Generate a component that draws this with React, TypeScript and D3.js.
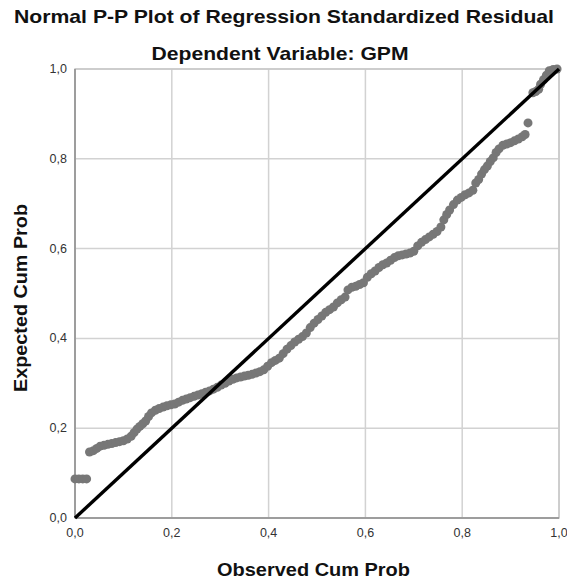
import * as d3 from "d3";

const observed = [
  0.0, 0.008, 0.016, 0.024, 0.03, 0.038, 0.045, 0.052, 0.06, 0.068, 0.076, 0.084, 0.092, 0.1, 0.108, 0.116,
  0.122, 0.128, 0.134, 0.14, 0.146, 0.152, 0.158, 0.166, 0.174, 0.182, 0.19, 0.198, 0.206, 0.214, 0.222,
  0.23, 0.238, 0.246, 0.254, 0.262, 0.27, 0.278, 0.286, 0.294, 0.302, 0.31, 0.318, 0.326, 0.334, 0.342,
  0.35, 0.358, 0.366, 0.374, 0.382, 0.39, 0.398, 0.406, 0.414, 0.422, 0.43, 0.438, 0.446, 0.454, 0.462,
  0.47, 0.478, 0.486, 0.494, 0.502, 0.51, 0.518, 0.526, 0.534, 0.542, 0.55, 0.558, 0.564, 0.572, 0.58,
  0.588, 0.596, 0.604, 0.612, 0.62, 0.628, 0.636, 0.644, 0.652, 0.66, 0.668, 0.676, 0.684, 0.692, 0.7,
  0.708, 0.716, 0.724, 0.732, 0.74, 0.748, 0.756, 0.762, 0.768, 0.774, 0.782, 0.79, 0.798, 0.806, 0.814,
  0.822, 0.828, 0.834, 0.84, 0.846, 0.852, 0.858, 0.864, 0.87, 0.876, 0.884, 0.892, 0.9, 0.908, 0.916,
  0.924, 0.93, 0.936, 0.946, 0.952, 0.958, 0.962, 0.968, 0.974, 0.98, 0.988, 0.996,
];

const expected = [
  0.087, 0.087, 0.087, 0.087, 0.147, 0.15, 0.155, 0.16, 0.162, 0.164, 0.166, 0.168, 0.17, 0.172, 0.176, 0.182,
  0.19, 0.198, 0.204, 0.21, 0.216, 0.226, 0.234, 0.24, 0.244, 0.247, 0.25, 0.252, 0.254, 0.258, 0.262,
  0.265, 0.268, 0.271, 0.274, 0.277, 0.28, 0.283, 0.287, 0.291, 0.296, 0.3, 0.305, 0.309, 0.312, 0.314,
  0.316, 0.318, 0.32, 0.323, 0.326, 0.33, 0.338, 0.346, 0.351, 0.356, 0.366, 0.376, 0.384, 0.392, 0.398,
  0.404, 0.412, 0.424, 0.434, 0.442, 0.45, 0.458, 0.464, 0.47, 0.479, 0.486, 0.492, 0.508, 0.514, 0.516,
  0.52, 0.524, 0.536, 0.544, 0.55, 0.558, 0.564, 0.568, 0.574, 0.58, 0.584, 0.586, 0.588, 0.59, 0.594,
  0.606, 0.614, 0.62, 0.626, 0.632, 0.638, 0.648, 0.664, 0.676, 0.686, 0.698, 0.708, 0.714, 0.72, 0.724,
  0.73, 0.746, 0.754, 0.766, 0.776, 0.784, 0.794, 0.802, 0.814, 0.822, 0.83, 0.833, 0.836, 0.84, 0.844,
  0.849, 0.854, 0.88, 0.947, 0.95, 0.955, 0.966, 0.976, 0.986, 0.996, 0.999, 1.0,
];

const ticks = [0, 0.2, 0.4, 0.6, 0.8, 1.0];

const W = 567;
const H = 581;
const margin = { top: 69, right: 8, bottom: 63, left: 75 };
const innerW = W - margin.left - margin.right;
const innerH = H - margin.top - margin.bottom;

const fmt = (v: number) => v.toFixed(1).replace(".", ",");

export default function App() {
  const x = d3.scaleLinear().domain([0, 1]).range([0, innerW]);
  const y = d3.scaleLinear().domain([0, 1]).range([innerH, 0]);
  const points = observed.map((o, i) => ({ o, e: expected[i] }));
  const refLine = d3.line<number>()
    .x((d) => x(d))
    .y((d) => y(d))([0, 1]);

  return (
    <svg
      width={W}
      height={H}
      style={{ position: "absolute", left: 0, top: 0, fontFamily: "'Liberation Sans', Arial, sans-serif" }}
    >
      <rect width={W} height={H} fill="#fff" />
      <text x={284} y={23} textAnchor="middle" fontSize={19} fontWeight="bold" fill="#111"
        textLength={540} lengthAdjust="spacingAndGlyphs">
        Normal P-P Plot of Regression Standardized Residual
      </text>
      <text x={280} y={60} textAnchor="middle" fontSize={19} fontWeight="bold" fill="#111"
        textLength={257} lengthAdjust="spacingAndGlyphs">
        Dependent Variable: GPM
      </text>
      <g transform={`translate(${margin.left},${margin.top})`}>
        {ticks.map((t) => (
          <g key={"g" + t}>
            <line x1={x(t)} x2={x(t)} y1={0} y2={innerH} stroke="#d2d2d2" strokeWidth={1.5} />
            <line x1={0} x2={innerW} y1={y(t)} y2={y(t)} stroke="#d2d2d2" strokeWidth={1.5} />
          </g>
        ))}
        <rect x={0} y={0} width={innerW} height={innerH} fill="none" stroke="#c8c8c8" strokeWidth={1.5} />
        <line x1={0} x2={0} y1={0} y2={innerH} stroke="#8c8c8c" strokeWidth={1.5} />
        <line x1={0} x2={innerW} y1={innerH} y2={innerH} stroke="#8c8c8c" strokeWidth={1.5} />
        {points.map((p, i) => (
          <circle key={i} cx={x(p.o)} cy={y(p.e)} r={4.5} fill="#777" />
        ))}
        <path d={refLine ?? ""} stroke="#000" strokeWidth={3.4} fill="none" />
        {ticks.map((t) => (
          <text key={"xl" + t} x={x(t)} y={innerH + 19} textAnchor="middle" fontSize={12.5} fill="#333">
            {fmt(t)}
          </text>
        ))}
        {ticks.map((t) => (
          <text key={"yl" + t} x={-8} y={y(t) + 4} textAnchor="end" fontSize={12.5} fill="#333">
            {fmt(t)}
          </text>
        ))}
        <text x={313.5 - margin.left} y={576 - margin.top} textAnchor="middle" fontSize={19} fontWeight="bold"
          fill="#111" textLength={193} lengthAdjust="spacingAndGlyphs">
          Observed Cum Prob
        </text>
        <text
          transform={`translate(${27 - margin.left},${298 - margin.top}) rotate(-90)`}
          textAnchor="middle"
          fontSize={19}
          fontWeight="bold"
          fill="#111"
          textLength={188}
          lengthAdjust="spacingAndGlyphs"
        >
          Expected Cum Prob
        </text>
      </g>
    </svg>
  );
}
